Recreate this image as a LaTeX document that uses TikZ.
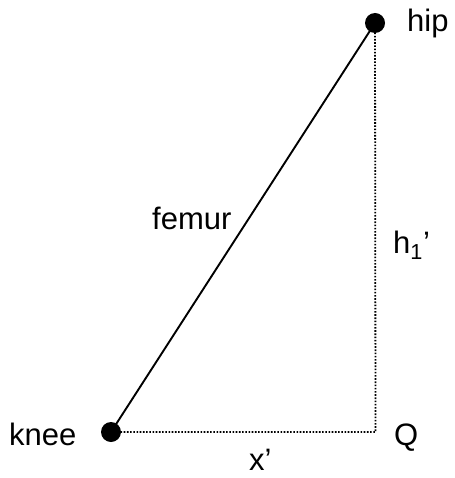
\documentclass[tikz,border=0pt]{standalone}
\usepackage{fontspec}
\setmainfont{Liberation Sans}
\begin{document}
\begin{tikzpicture}[x=1pt,y=-1pt,
  joint/.style={circle,fill=black,inner sep=0pt,minimum size=20pt},
  lbl/.style={inner sep=0pt,anchor=base west,font=\fontsize{31}{36}\selectfont},
  aux/.style={line width=1.8pt,dash pattern=on 1.6pt off 1.6pt}]
\useasboundingbox (0,0) rectangle (454,478);
\node[joint] (hip) at (375,23) {};
\node[joint] (knee) at (111,432) {};
\coordinate (Q) at (375.5,432);
\draw[line width=1.9pt] (knee.center) -- (hip.center);
\draw[aux] (hip.center) -- (Q) -- (knee.center);
\node[lbl] (hipl) at (407,32) {hip};
\node[lbl] (kneel) at (9,445) {knee};
\node[lbl] (ql) at (394,445) {Q};
\node[lbl] (xl) at (249,470) {x’};
\node[lbl] (fl) at (152,229) {femur};
\node[lbl] (hl) at (393,253) {h\textsubscript{1}’};
\end{tikzpicture}
\end{document}
